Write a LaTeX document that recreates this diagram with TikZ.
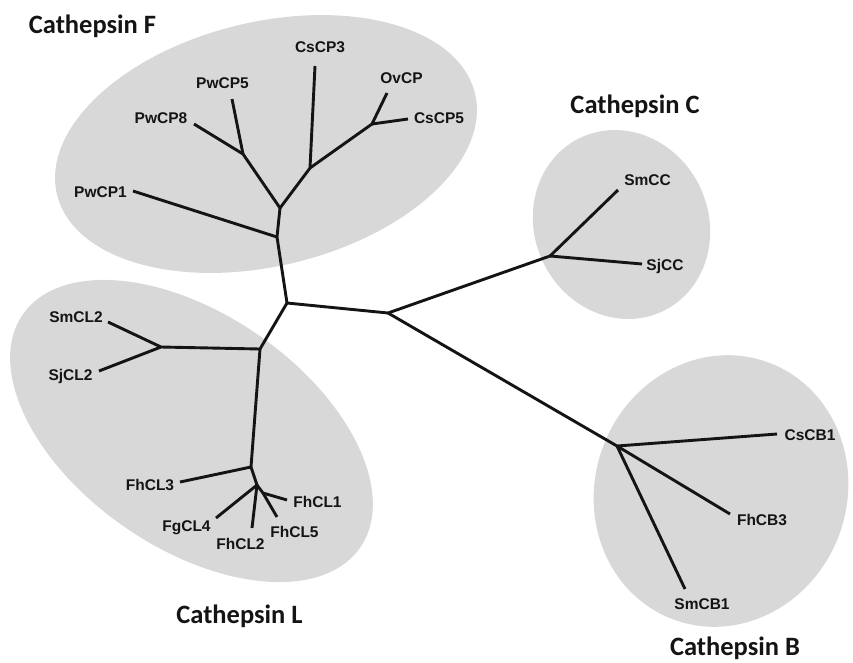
\documentclass[tikz,border=0pt]{standalone}
\usepackage{fontspec}
\setmainfont{Liberation Sans}
\newfontfamily\titlefont{Carlito}
\definecolor{ellgray}{RGB}{216,216,216}
\definecolor{inkc}{RGB}{20,20,20}
\begin{document}
\begin{tikzpicture}[x=1pt,y=-1pt,
  branch/.style={line width=2.9pt, line join=round, draw=inkc},
  leaflabel/.style={font=\fontsize{15.5}{18}\selectfont\bfseries, anchor=base, inner sep=0pt, text=inkc},
  cladetitle/.style={font=\titlefont\fontsize{26.5}{30}\selectfont\bfseries, anchor=base, inner sep=0pt, text=inkc},
  clade/.style={fill=ellgray}]
\useasboundingbox (0,0) rectangle (853,662);
% clade ellipses
\fill[clade, shift={(266,144)}, rotate=13.6] (0,0) ellipse [x radius=215, y radius=122];
\fill[clade, shift={(191.5,431)}, rotate=-34.6] (0,0) ellipse [x radius=205, y radius=117];
\fill[clade, shift={(621.5,224.5)}, rotate=-65] (0,0) ellipse [x radius=96, y radius=87];
\fill[clade, shift={(721,491)}, rotate=70] (0,0) ellipse [x radius=137, y radius=126];
% titles
\node[cladetitle] (tF) at (92.5,33) {Cathepsin F};
\node[cladetitle] (tC) at (635,113) {Cathepsin C};
\node[cladetitle] (tL) at (239.5,623) {Cathepsin L};
\node[cladetitle] (tB) at (735,655) {Cathepsin B};
% internal nodes
\coordinate (root) at (287,303);
\coordinate (fLow) at (277,237);
\coordinate (fMid) at (280,208);
\coordinate (fPw) at (243,154);
\coordinate (fCs) at (310,168);
\coordinate (fOv) at (372,124);
\coordinate (lTop) at (260,349);
\coordinate (lSS) at (161,347);
\coordinate (lLow) at (251,467);
\coordinate (lLower) at (257,485);
\coordinate (lSub) at (263,493);
\coordinate (rNode) at (388,313);
\coordinate (cNode) at (550,256);
\coordinate (bNode) at (617,446);
% leaf tips
\coordinate (ePwCP1) at (133,191);
\coordinate (ePwCP8) at (194,124);
\coordinate (ePwCP5) at (232,99);
\coordinate (eCsCP3) at (315,66);
\coordinate (eOvCP) at (387,93);
\coordinate (eCsCP5) at (408,119);
\coordinate (eSmCL2) at (108,322);
\coordinate (eSjCL2) at (99,371);
\coordinate (eFhCL3) at (180,482);
\coordinate (eFgCL4) at (216,518);
\coordinate (eFhCL2) at (252,528);
\coordinate (eFhCL1) at (287,500);
\coordinate (eFhCL5) at (277,517);
\coordinate (eSmCC) at (618,190);
\coordinate (eSjCC) at (642,264);
\coordinate (eCsCB1) at (777,434);
\coordinate (eFhCB3) at (730,514);
\coordinate (eSmCB1) at (685,589);
% branches
\draw[branch] (root) -- (fLow) -- (fMid);
\draw[branch] (fLow) -- (ePwCP1);
\draw[branch] (fMid) -- (fPw) -- (ePwCP8);
\draw[branch] (fPw) -- (ePwCP5);
\draw[branch] (fMid) -- (fCs) -- (eCsCP3);
\draw[branch] (fCs) -- (fOv) -- (eOvCP);
\draw[branch] (fOv) -- (eCsCP5);
\draw[branch] (root) -- (lTop) -- (lSS) -- (eSmCL2);
\draw[branch] (lSS) -- (eSjCL2);
\draw[branch] (lTop) -- (lLow) -- (eFhCL3);
\draw[branch] (lLow) -- (lLower) -- (eFgCL4);
\draw[branch] (lLower) -- (eFhCL2);
\draw[branch] (lLower) -- (lSub) -- (eFhCL1);
\draw[branch] (lSub) -- (eFhCL5);
\draw[branch] (root) -- (rNode) -- (cNode) -- (eSmCC);
\draw[branch] (cNode) -- (eSjCC);
\draw[branch] (rNode) -- (bNode) -- (eCsCB1);
\draw[branch] (bNode) -- (eFhCB3);
\draw[branch] (bNode) -- (eSmCB1);
% leaf labels
\node[leaflabel] (PwCP1) at (100.5,197) {PwCP1};
\node[leaflabel] (PwCP8) at (161,123) {PwCP8};
\node[leaflabel] (PwCP5) at (222.5,88) {PwCP5};
\node[leaflabel] (CsCP3) at (320,52) {CsCP3};
\node[leaflabel] (OvCP) at (401.5,83) {OvCP};
\node[leaflabel] (CsCP5) at (439,123) {CsCP5};
\node[leaflabel] (SmCL2) at (76,322.5) {SmCL2};
\node[leaflabel] (SjCL2) at (70.5,380) {SjCL2};
\node[leaflabel] (FhCL3) at (150,490) {FhCL3};
\node[leaflabel] (FgCL4) at (186.5,531) {FgCL4};
\node[leaflabel] (FhCL2) at (240.5,549) {FhCL2};
\node[leaflabel] (FhCL5) at (294.5,537) {FhCL5};
\node[leaflabel] (FhCL1) at (317.5,507) {FhCL1};
\node[leaflabel] (SmCC) at (647.5,185) {SmCC};
\node[leaflabel] (SjCC) at (665,270) {SjCC};
\node[leaflabel] (CsCB1) at (810,440) {CsCB1};
\node[leaflabel] (FhCB3) at (762,525) {FhCB3};
\node[leaflabel] (SmCB1) at (702,609) {SmCB1};
\end{tikzpicture}
\end{document}
